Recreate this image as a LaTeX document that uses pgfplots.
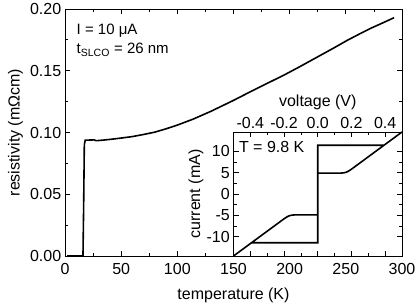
\documentclass[border=0pt]{standalone}
\usepackage{fontspec}
\setmainfont{Liberation Sans}
\usepackage{pgfplots}
\pgfplotsset{compat=1.18}
\pgfplotstableread{
T rho
2 0
16 0
16.6 0.04
17.2 0.09
18 0.0938
26 0.0940
27.5 0.0934
30 0.0935
40 0.0944
50 0.0955
60 0.0967
70 0.0984
80 0.1003
90 0.1030
100 0.1060
114 0.1108
130 0.1172
150 0.1260
165 0.1330
180 0.1398
195 0.1465
209 0.1533
224 0.1608
240 0.1688
251 0.1745
262 0.1797
272 0.1843
283 0.1888
293 0.1930
}\rhodata
\pgfplotstableread{
V I
-0.5 -14.5
-0.393 -11.4
0 -11.4
0 11.4
0.393 11.4
0.5 14.5
0.2 5.8
0.185 5.4
0.17 5.1
0.155 4.95
0.14 4.9
0 4.9
0 -4.9
-0.14 -4.9
-0.155 -4.95
-0.17 -5.1
-0.185 -5.4
-0.2 -5.8
-0.5 -14.5
}\ivdata
\begin{document}
\begin{tikzpicture}[font=\fontsize{16bp}{19bp}\selectfont]
\pgfplotsset{every axis/.append style={
  font=\fontsize{16bp}{19bp}\selectfont,
  /pgf/number format/assume math mode=true,
  line width=0.9pt,
  tick style={line width=0.8pt, black},
  major tick length=5bp, minor tick length=3bp,
  tick align=inside, scale only axis,
  label style={font=\fontsize{16bp}{19bp}\selectfont},
}}
\begin{axis}[name=main, width=337bp, height=247bp,
  xmin=0, xmax=300, ymin=0, ymax=0.2,
  xtick={0,50,100,150,200,250,300}, minor x tick num=1,
  ytick={0,0.05,0.1,0.15,0.2}, minor y tick num=1,
  scaled y ticks=false,
  yticklabel style={/pgf/number format/.cd, fixed, fixed zerofill, precision=2},
  xticklabel style={yshift=-4bp},
  xlabel={temperature (K)}, ylabel={resistivity (mΩcm)},
  xlabel style={yshift=-6bp}, ylabel style={yshift=0bp}]
\addplot[black, line width=1.6pt, no marks] table[x=T, y=rho] {\rhodata};
\node[anchor=base west, inner sep=0pt, font=\fontsize{15bp}{18bp}\selectfont] at (axis cs:10,0.179) {I = 10 μA};
\node[anchor=base west, inner sep=0pt, font=\fontsize{15bp}{18bp}\selectfont] at (axis cs:10,0.1636) {t\textsubscript{SLCO} = 26 nm};
\coordinate (sw) at (rel axis cs:0,0);
\coordinate (ne) at (rel axis cs:1,1);
\end{axis}
\begin{axis}[at={(main.south east)}, anchor=south east,
  width=168.5bp, height=124bp,
  axis background/.style={fill=white},
  xmin=-0.5, xmax=0.5, ymin=-14.5, ymax=14.5,
  xtick={-0.4,-0.2,0,0.2,0.4}, minor x tick num=1,
  ytick={-10,-5,0,5,10}, minor y tick num=1,
  xticklabel pos=right,
  xticklabel style={/pgf/number format/.cd, fixed, fixed zerofill, precision=1},
  xlabel={voltage (V)}, ylabel={current (mA)},
  ylabel style={yshift=-4bp}]
\addplot[black, line width=1.6pt, no marks] table[x=V, y=I] {\ivdata};
\node[anchor=base west, inner sep=0pt] at (axis cs:-0.47,9.67) {T = 9.8 K};
\end{axis}
\pgfresetboundingbox
\path ([shift={(-65bp,-49bp)}]sw) rectangle ([shift={(14bp,9bp)}]ne);
\end{tikzpicture}
\end{document}
